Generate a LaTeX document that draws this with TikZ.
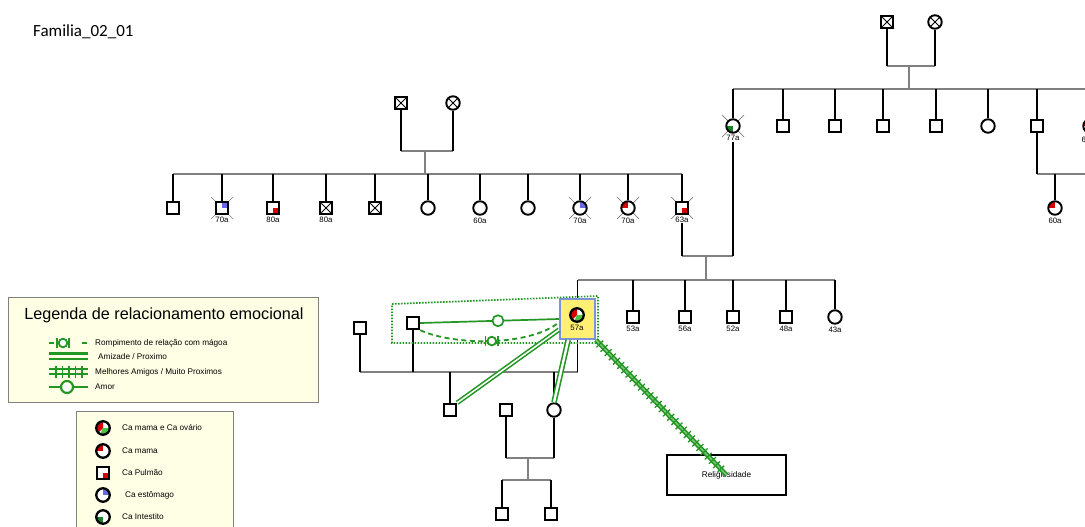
\documentclass[tikz,border=0pt]{standalone}
\usepackage{fontspec}
\setmainfont{Liberation Sans}
\newfontfamily\titlefont{Carlito}
\usetikzlibrary{calc,decorations.markings}
\pgfdeclarelayer{bg}
\pgfsetlayers{bg,main}

\definecolor{relgreen}{RGB}{36,150,36}
\definecolor{relgreenlt}{RGB}{120,200,120}
\definecolor{kingray}{RGB}{128,128,128}
\definecolor{cared}{RGB}{215,0,0}
\definecolor{cablue}{RGB}{105,105,225}
\definecolor{cagreen}{RGB}{25,130,40}
\definecolor{caovgreen}{RGB}{70,200,70}
\definecolor{legfill}{RGB}{255,255,230}
\definecolor{selyellow}{RGB}{255,240,115}
\definecolor{selblue}{RGB}{125,145,215}

\tikzset{
  ind/.style={line width=1.7pt, black},
  kin/.style={line width=1.7pt, kingray},
  pers/.style={draw, fill=white, line width=1.9pt, inner sep=0pt},
  male/.style={pers, rectangle, minimum size=12.5pt},
  female/.style={pers, circle, minimum size=13.5pt},
  legsym/.style={line width=2.3pt},
  lab/.style={font=\fontsize{7.8}{8}\selectfont, inner sep=0.5pt},
  agelab/.style 2 args={label={[lab, label distance=1.2pt, name=#2]below:#1}},
  xsign/.style={path picture={\draw[line width=0.9pt]
      ([shift={(1.5pt,1.5pt)}]path picture bounding box.south west) -- ([shift={(-1.5pt,-1.5pt)}]path picture bounding box.north east)
      ([shift={(1.5pt,-1.5pt)}]path picture bounding box.north west) -- ([shift={(-1.5pt,1.5pt)}]path picture bounding box.south east);}},
  qtl/.style={path picture={\fill[#1] (path picture bounding box.center) rectangle (path picture bounding box.north west);}},
  qtr/.style={path picture={\fill[#1] (path picture bounding box.center) rectangle (path picture bounding box.north east);}},
  qbl/.style={path picture={\fill[#1] (path picture bounding box.center) rectangle (path picture bounding box.south west);}},
  qbr/.style={path picture={\fill[#1] (path picture bounding box.center) rectangle (path picture bounding box.south east);}},
  mamaov/.style={path picture={
      \fill[cared] (path picture bounding box.center) -- ++(90:10pt) arc[start angle=90, end angle=225, radius=10pt] -- cycle;
      \fill[caovgreen] (path picture bounding box.center) -- ++(245:10pt) arc[start angle=245, end angle=360, radius=10pt] -- cycle;}},
  deadtick/.style={line width=0.7pt, gray},
  relline/.style={draw=relgreen, line width=1.7pt},
  amizade/.style={draw=relgreen, line width=1.6pt, double=white, double distance=1.5pt},
  melhores/.style={draw=relgreen, line width=1.6pt, double=relgreenlt, double distance=1.4pt,
      postaction={decorate, decoration={markings,
        mark=between positions 0.03 and 0.97 step 6pt with {\draw[relgreen, line width=1.3pt] (0,-4.8pt) -- (0,4.8pt);}}}},
  rompe/.style={draw=relgreen, line width=1.8pt, dash pattern=on 5pt off 3.5pt},
  amorring/.style={circle, draw=relgreen, line width=1.7pt, fill=white, minimum size=11pt, inner sep=0pt},
  legbox/.style={draw=gray, line width=1pt, fill=legfill},
  legtxt/.style={font=\fontsize{8.2}{9}\selectfont, anchor=west, inner sep=0pt},
  breakmark/.pic={
    \draw[relgreen, line width=1.8pt, fill=white] (0,0) circle[radius=4.3pt];
    \draw[relgreen, line width=1.8pt] (-6.3pt,-5pt) -- (-6.3pt,5pt) (6.3pt,-5pt) -- (6.3pt,5pt)
      (-6.3pt,0) -- (-4.3pt,0) (4.3pt,0) -- (6.3pt,0);
  }
}

\newcommand\deadmark[1]{%
  \begin{pgfonlayer}{bg}
    \draw[deadtick] ([shift={(-11pt,-11pt)}]#1.center) -- ([shift={(11pt,11pt)}]#1.center)
                    ([shift={(-11pt,11pt)}]#1.center) -- ([shift={(11pt,-11pt)}]#1.center);
  \end{pgfonlayer}}

\begin{document}
\begin{tikzpicture}[x=1pt, y=-1pt]
\path[use as bounding box] (0,0) rectangle (1085,527);
\begin{pgfonlayer}{bg}
  \fill[white] (0,0) rectangle (1085,527);
\end{pgfonlayer}
\clip (0,0) rectangle (1085,527);

% title
\node[font=\titlefont\fontsize{17}{19}\selectfont, anchor=west, inner sep=0pt] (title) at (33,32) {Familia\_02\_01};

% ---------- maternal-side grandparents and their children ----------
\node[male, xsign] (gf1) at (401,103) {};
\node[female, xsign] (gm1) at (453,103) {};
\coordinate (mar1) at (425,151);
\coordinate (sib1) at (425,174);

\node[male] (c1) at (173,208) {};
\node[male, qtr=cablue, agelab={70a}{lc2}] (c2) at (222,208) {};
\node[male, qbr=cared, agelab={80a}{lc3}] (c3) at (273,208) {};
\node[male, xsign, agelab={80a}{lc4}] (c4) at (326,208) {};
\node[male, xsign] (c5) at (375,208) {};
\node[female] (c6) at (428,208) {};
\node[female, agelab={60a}{lc7}] (c7) at (480,208) {};
\node[female] (c8) at (528,208) {};
\node[female, qtr=cablue, agelab={70a}{lc9}] (c9) at (580,208) {};
\node[female, qtl=cared, agelab={70a}{lc10}] (c10) at (628,208) {};
\node[male, qbr=cared, agelab={63a}{lc11}] (c11) at (682,208) {};

\draw[kin] (gf1 |- mar1) -- (gm1 |- mar1);
\draw[kin] (mar1) -- (sib1);
\draw[ind] (gf1) -- (gf1 |- mar1);
\draw[ind] (gm1) -- (gm1 |- mar1);
\draw[kin] (c1 |- sib1) -- (c11 |- sib1);
\foreach \n in {c1,c2,c3,c4,c5,c6,c7,c8,c9,c10,c11}
  {\draw[ind] (\n) -- (\n |- sib1);}

% ---------- paternal-side grandparents and their children ----------
\node[male, xsign] (gf2) at (887,22) {};
\node[female, xsign] (gm2) at (935,22) {};
\coordinate (mar2) at (909,66);
\coordinate (sib2) at (909,89);

\node[female, qbl=cagreen, agelab={77a}{ld1}] (d1) at (733,126) {};
\node[male] (d2) at (783,126) {};
\node[male] (d3) at (835,126) {};
\node[male] (d4) at (883,126) {};
\node[male] (d5) at (936,126) {};
\node[female] (d6) at (988,126) {};
\node[male] (d7) at (1037,126) {};
\node[female, qtl=cared] (d8) at (1090,126) {};
\node[lab, anchor=west] (ld8) at (1081,140) {6};

\draw[kin] (gf2 |- mar2) -- (gm2 |- mar2);
\draw[kin] (mar2) -- (sib2);
\draw[ind] (gf2) -- (gf2 |- mar2);
\draw[ind] (gm2) -- (gm2 |- mar2);
\draw[kin] (d1 |- sib2) -- (d8 |- sib2);
\foreach \n in {d1,d2,d3,d4,d5,d6,d7,d8}
  {\draw[ind] (\n) -- (\n |- sib2);}

\coordinate (mar3) at (1055,174);
\node[female, qtl=cared, agelab={60a}{le1}] (e1) at (1055,208) {};
\draw[kin] (d7 |- mar3) -- (d8 |- mar3);
\draw[ind] (d7) -- (d7 |- mar3);
\draw[ind] (d8) -- (d8 |- mar3);
\draw[ind] (e1) -- (mar3);

% ---------- parents 63a + 77a and their children ----------
\coordinate (mar4) at (706,256);
\coordinate (sib4) at (706,280);

\node[draw=selblue, fill=selyellow, line width=1.8pt, minimum width=35pt, minimum height=40pt, inner sep=0pt] (box57) at (577.5,319) {};
\node[female, legsym, mamaov, agelab={57a}{l57}] (p57) at (577,315) {};
\node[male, agelab={53a}{lg2}] (g2) at (633,317) {};
\node[male, agelab={56a}{lg3}] (g3) at (685,317) {};
\node[male, agelab={52a}{lg4}] (g4) at (733,317) {};
\node[male, agelab={48a}{lg5}] (g5) at (786,317) {};
\node[female, agelab={43a}{lg6}] (g6) at (835,317) {};

\draw[kin] (lc11 |- mar4) -- (ld1 |- mar4);
\draw[kin] (mar4) -- (sib4);
\draw[ind] (lc11) -- (lc11 |- mar4);
\draw[ind] (ld1) -- (ld1 |- mar4);
\draw[kin] (box57 |- sib4) -- (g6 |- sib4);
\foreach \n in {box57,g2,g3,g4,g5,g6}
  {\draw[ind] (\n) -- (\n |- sib4);}

% ---------- 57a with her partners and descendants ----------
\node[male] (h1) at (360,328) {};
\node[male] (h2) at (413,323) {};
\coordinate (mar5) at (470,372);
\node[male] (k1) at (450,410) {};
\node[male] (k3) at (506,410) {};
\node[female] (k2) at (554,410) {};

\draw[kin] (h1 |- mar5) -- (box57 |- mar5);
\draw[ind] (h1) -- (h1 |- mar5);
\draw[ind] (h2) -- (h2 |- mar5);
\draw[ind] (box57) -- (box57 |- mar5);
\draw[ind] (k1) -- (k1 |- mar5);
\draw[ind] (k2) -- (k2 |- mar5);

\coordinate (mar6) at (528,458);
\coordinate (sib6) at (528,480);
\node[male] (m1) at (502,514) {};
\node[male] (m2) at (551,514) {};
\draw[kin] (k3 |- mar6) -- (k2 |- mar6);
\draw[kin] (mar6) -- (sib6);
\draw[ind] (k3) -- (k3 |- mar6);
\draw[ind] (k2) -- (k2 |- mar6);
\draw[kin] (m1 |- sib6) -- (m2 |- sib6);
\draw[ind] (m1) -- (m1 |- sib6);
\draw[ind] (m2) -- (m2 |- sib6);

% deceased marks
\foreach \n in {c2,c9,c10,c11,d1}
  {\deadmark{\n}}

% ---------- emotional relationships ----------
\node[draw, line width=1.6pt, minimum width=119pt, minimum height=40pt, inner sep=0pt,
      font=\fontsize{8.2}{9}\selectfont] (relig) at (726.5,475) {Religiosidade};

\draw[relgreen, line width=1.7pt, dash pattern=on 1.6pt off 1.4pt]
  (392,304) -- (598,296) -- (598,343) -- (392,343) -- cycle;

\draw[relline] (h2.east) -- node[pos=0.56, amorring] (amorc) {} (box57.west);
\draw[rompe] (h2.south east) .. controls (455,346) and (530,346) .. coordinate[pos=0.5] (rmid) (box57.190);
\pic at (rmid) {breakmark};
\draw[amizade] (box57.210) -- (k1.north east);
\draw[amizade, double distance=2.4pt] (box57.246) -- (k2.north);
\draw[melhores] (box57.south east) -- (relig.center);

% ---------- legend: emotional relationships ----------
\draw[legbox] (8,297) rectangle (318,402);
\node[font=\fontsize{16.2}{18}\selectfont, inner sep=0pt] (legtitle) at (164,315) {Legenda de relacionamento emocional};

\node[legtxt] (lt1) at (95,343) {Rompimento de relação com mágoa};
\node[legtxt] (lt2) at (98,357) {Amizade / Proximo};
\node[legtxt] (lt3) at (95,372) {Melhores Amigos / Muito Proximos};
\node[legtxt] (lt4) at (95,387) {Amor};

\draw[relline, line width=2.2pt] (49,343) -- (54,343) (82,343) -- (87,343);
\pic at (63,343) {breakmark};
\draw[relgreen, line width=2.4pt] (49,353.5) -- (88,353.5) (49,359) -- (88,359);
\draw[relgreen, line width=2.2pt] (49,369) -- (88,369) (49,374) -- (88,374);
\foreach \t in {56,62.5,69,75.5,82}
  {\draw[relgreen, line width=1.6pt] (\t,365.5) -- (\t,377.5);}
\draw[relline, line width=2.2pt] (49,387) -- (88,387);
\node[amorring, line width=2.2pt, minimum size=12pt] (legamor) at (67,387) {};

% ---------- legend: diseases ----------
\draw[legbox] (76,411) rectangle (233,540);
\node[female, legsym, mamaov] (s1) at (103,428) {};
\node[female, legsym, qtl=cared] (s2) at (103,451) {};
\node[male, legsym, qbr=cared] (s3) at (103,473) {};
\node[female, legsym, qtr=cablue] (s4) at (103,495) {};
\node[female, legsym, qbl=cagreen] (s5) at (103,517) {};
\node[legtxt] (st1) at (122,428) {Ca mama e Ca ovário};
\node[legtxt] (st2) at (122,451) {Ca mama};
\node[legtxt] (st3) at (122,473) {Ca Pulmão};
\node[legtxt] (st4) at (125,495) {Ca estômago};
\node[legtxt] (st5) at (122,517) {Ca Intestito};
\end{tikzpicture}
\end{document}
